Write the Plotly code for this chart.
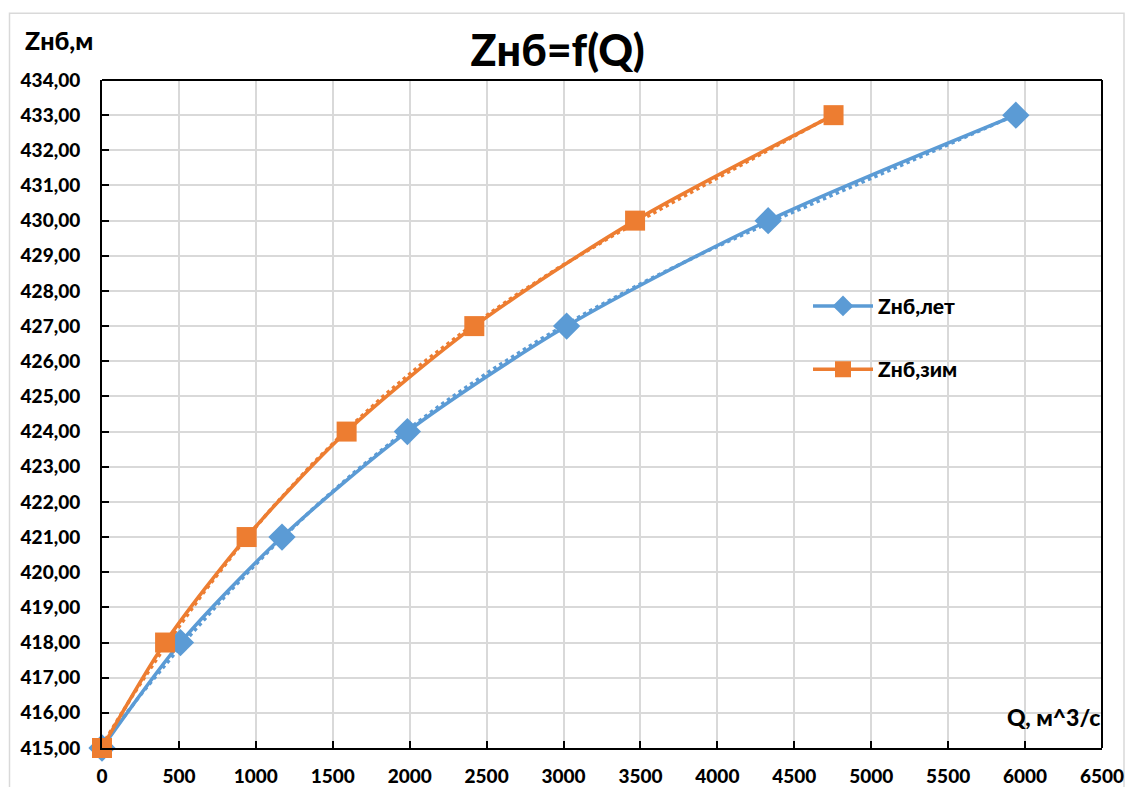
import numpy as np
import plotly.graph_objects as go

# Tailwater level Z (m) versus discharge Q (m^3/s)
z_levels = [415, 418, 421, 424, 427, 430, 433]
q_summer = [0, 510, 1170, 1985, 3020, 4330, 5940]
q_winter = [0, 410, 940, 1590, 2420, 3465, 4755]

name_summer = "Zнб,лет"
name_winter = "Zнб,зим"
blue = "#5b9bd5"
orange = "#ed7d31"
font_family = "Lato, 'Open Sans', sans-serif"

fig = go.Figure()


def trend(q, z, deg=3):
    # polynomial trendline over the data range
    coef = np.polyfit(q, z, deg)
    qq = np.linspace(min(q), max(q), 150)
    return qq, np.polyval(coef, qq)


for q, color in ((q_summer, blue), (q_winter, orange)):
    tq, tz = trend(q, z_levels)
    fig.add_trace(go.Scatter(
        x=tq, y=tz, mode="lines", showlegend=False, hoverinfo="skip",
        line=dict(color=color, width=3.5, dash="dot"),
    ))

fig.add_trace(go.Scatter(
    x=q_summer, y=z_levels, name=name_summer, mode="lines+markers",
    line=dict(color=blue, width=3.5, shape="spline", smoothing=0.8),
    marker=dict(symbol="diamond", size=21, color=blue),
    cliponaxis=False, legendgroup="a",
))
fig.add_trace(go.Scatter(
    x=q_winter, y=z_levels, name=name_winter, mode="lines+markers",
    line=dict(color=orange, width=3.5, shape="spline", smoothing=0.8),
    marker=dict(symbol="square", size=20, color=orange),
    cliponaxis=False, legendgroup="b",
))

tick_font = dict(size=19, family=font_family, weight=900, color="black")

fig.update_layout(
    width=1131, height=787,
    margin=dict(l=101.5, r=28.5, t=80, b=39, autoexpand=False),
    paper_bgcolor="white", plot_bgcolor="white",
    separators=", ",
    font=dict(family=font_family, color="black", size=18),
    title=dict(text="Zнб=f(Q)", x=0.493, xanchor="center",
               y=0.935, yanchor="middle",
               font=dict(size=43, family=font_family, weight=900)),
    legend=dict(x=0.706, y=0.692, xanchor="left", yanchor="top",
                bgcolor="rgba(0,0,0,0)",
                font=dict(size=21, family=font_family, weight=900),
                tracegroupgap=33, itemwidth=60),
    showlegend=True,
)

fig.update_xaxes(
    range=[0, 6500], tick0=0, dtick=500, tickformat="d",
    showline=True, linecolor="black", linewidth=2,
    showgrid=True, gridcolor="#d9d9d9", gridwidth=2,
    ticks="inside", ticklen=7, tickwidth=2, tickcolor="black",
    tickfont=tick_font, ticklabelstandoff=10,
    zeroline=False, automargin=False,
)
fig.update_yaxes(
    range=[415, 434], tick0=415, dtick=1, tickformat=".2f",
    showline=True, linecolor="black", linewidth=2,
    showgrid=True, gridcolor="#d9d9d9", gridwidth=2,
    ticks="inside", ticklen=7, tickwidth=2, tickcolor="black",
    tickfont=tick_font, ticklabelstandoff=16,
    zeroline=False, automargin=False,
)

# top and right frame lines of the plot area
fig.add_shape(type="line", xref="paper", yref="paper", x0=0, x1=1, y0=1, y1=1,
              line=dict(color="black", width=2))
fig.add_shape(type="line", xref="paper", yref="paper", x0=1, x1=1, y0=0, y1=1,
              line=dict(color="black", width=2))
# outer chart border
fig.add_shape(type="rect", xref="paper", yref="paper",
              x0=-0.0925, x1=1.022, y0=-0.06, y1=1.1,
              line=dict(color="#d9d9d9", width=1.5), layer="below")

fig.add_annotation(text="Zнб,м", xref="paper", yref="paper",
                   x=-0.079, y=1.06, xanchor="left", yanchor="middle",
                   showarrow=False,
                   font=dict(size=25, family=font_family, weight=900))
fig.add_annotation(text="Q, м^3/с", xref="paper", yref="paper",
                   x=1.0, y=0.046, xanchor="right", yanchor="middle",
                   showarrow=False,
                   font=dict(size=23, family=font_family, weight=900))

fig.write_html("out.html")
